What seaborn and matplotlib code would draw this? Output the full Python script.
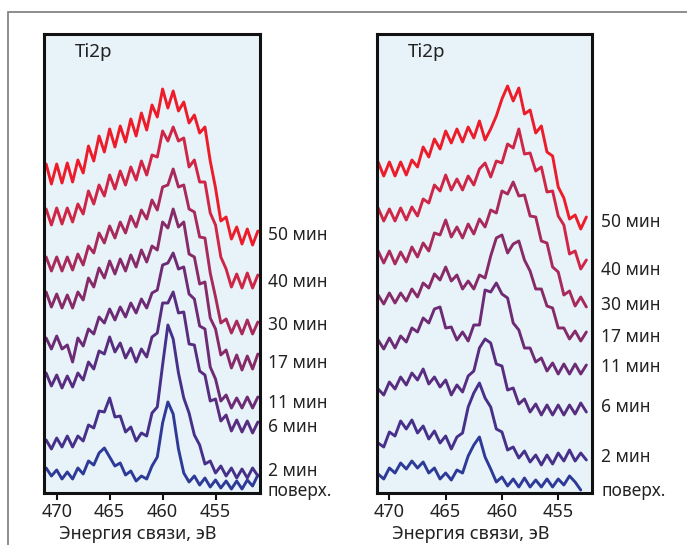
import pandas as pd
import seaborn as sns
import matplotlib.pyplot as plt
import matplotlib.transforms as mtransforms
from matplotlib.patches import Rectangle

# binding energy grid, eV (0.5 eV step)
ev_left = [471.0, 470.5, 470.0, 469.5, 469.0, 468.5, 468.0, 467.5, 467.0, 466.5,
           466.0, 465.5, 465.0, 464.5, 464.0, 463.5, 463.0, 462.5, 462.0, 461.5,
           461.0, 460.5, 460.0, 459.5, 459.0, 458.5, 458.0, 457.5, 457.0, 456.5,
           456.0, 455.5, 455.0, 454.5, 454.0, 453.5, 453.0, 452.5, 452.0, 451.5,
           451.0]
ev_right = [471.0, 470.5, 470.0, 469.5, 469.0, 468.5, 468.0, 467.5, 467.0, 466.5,
            466.0, 465.5, 465.0, 464.5, 464.0, 463.5, 463.0, 462.5, 462.0, 461.5,
            461.0, 460.5, 460.0, 459.5, 459.0, 458.5, 458.0, 457.5, 457.0, 456.5,
            456.0, 455.5, 455.0, 454.5, 454.0, 453.5, 453.0, 452.5]

labels = ['поверх.', '2 мин', '6 мин', '11 мин', '17 мин', '30 мин', '40 мин', '50 мин']

# left panel, Ti2p intensity (a.u., stacked as in the figure)
left_surf = [25, 17, 23, 14, 21, 14, 25, 19, 32, 28, 40, 45, 36, 27, 30, 18, 22, 12, 17, 14,
             27, 36, 70, 91, 79, 44, 20, 11, 17, 8, 15, 6, 13, 5, 12, 4, 12, 4, 13, 7, 18]
left_2 = [53, 44, 55, 46, 57, 46, 57, 52, 68, 65, 82, 81, 95, 76, 77, 61, 66, 52, 60, 57,
          80, 86, 128, 168, 154, 120, 95, 80, 58, 48, 29, 32, 20, 27, 17, 25, 15, 24, 15, 25, 17]
left_6 = [120, 107, 118, 105, 117, 106, 120, 113, 131, 124, 142, 139, 156, 141, 150, 135, 145,
          131, 144, 136, 156, 160, 190, 190, 201, 180, 181, 149, 148, 122, 118, 92, 94, 72, 78,
          62, 73, 61, 72, 60, 71]
left_11 = [155, 144, 157, 144, 148, 131, 155, 147, 164, 159, 176, 170, 184, 173, 186, 176, 190,
           180, 194, 185, 200, 203, 228, 230, 240, 224, 226, 199, 194, 167, 164, 126, 114, 92,
           98, 85, 95, 85, 96, 85, 96]
left_17 = [201, 186, 199, 185, 198, 185, 201, 193, 215, 206, 225, 215, 232, 219, 234, 222, 238,
           226, 243, 231, 247, 243, 271, 265, 284, 266, 271, 239, 236, 209, 211, 175, 164, 138,
           143, 125, 138, 123, 137, 124, 139]
left_30 = [236, 222, 236, 222, 236, 223, 239, 228, 247, 240, 260, 250, 267, 255, 271, 260, 277,
           266, 283, 274, 293, 283, 306, 308, 324, 306, 308, 284, 281, 256, 255, 220, 196, 170,
           174, 160, 172, 159, 173, 159, 171]
left_40 = [284, 268, 285, 269, 285, 271, 289, 279, 302, 289, 308, 297, 318, 304, 322, 308, 326,
           313, 332, 318, 338, 336, 362, 352, 366, 352, 355, 326, 333, 311, 311, 280, 268, 236,
           224, 206, 219, 205, 220, 205, 218]
left_50 = [329, 309, 329, 310, 330, 311, 333, 320, 347, 332, 357, 341, 364, 346, 367, 351, 374,
           357, 380, 363, 388, 376, 404, 385, 402, 382, 391, 370, 378, 360, 366, 332, 305, 272,
           276, 254, 266, 249, 264, 248, 262]

# right panel
right_surf = [19, 14, 25, 20, 30, 24, 32, 25, 31, 20, 25, 14, 20, 13, 23, 20, 37, 48, 56, 36,
              24, 11, 16, 7, 14, 6, 15, 6, 13, 6, 14, 6, 14, 8, 17, 11, 3]
right_2 = [50, 46, 61, 57, 72, 64, 73, 60, 67, 54, 62, 50, 57, 44, 56, 60, 86, 100, 110, 95,
           86, 64, 61, 43, 46, 35, 42, 31, 38, 28, 38, 29, 40, 32, 43, 32, 40, 33]
right_6 = [104, 98, 111, 104, 116, 108, 120, 113, 124, 109, 116, 106, 113, 98, 108, 101, 117,
           122, 145, 154, 150, 129, 127, 103, 105, 89, 94, 81, 89, 78, 88, 78, 88, 78, 88, 79,
           90, 81]
right_11 = [153, 144, 155, 145, 157, 151, 165, 161, 175, 170, 184, 186, 165, 166, 153, 161, 152,
            168, 168, 203, 201, 210, 199, 195, 170, 163, 145, 145, 131, 135, 122, 130, 119, 129,
            119, 129, 119, 128]
right_17 = [198, 189, 200, 190, 200, 192, 204, 196, 210, 205, 219, 213, 226, 212, 218, 204, 212,
            204, 218, 215, 237, 255, 258, 240, 249, 252, 233, 222, 204, 204, 187, 185, 165, 165,
            154, 162, 152, 161]
right_30 = [242, 230, 242, 229, 241, 231, 246, 236, 250, 242, 260, 258, 273, 256, 266, 255, 269,
            259, 274, 266, 283, 280, 302, 299, 311, 297, 298, 277, 276, 252, 250, 226, 221, 198,
            202, 187, 196, 186]
right_40 = [285, 272, 284, 272, 285, 273, 286, 277, 294, 290, 308, 302, 318, 303, 314, 303, 317,
            308, 324, 330, 316, 332, 330, 349, 345, 364, 339, 340, 322, 326, 301, 302, 277, 268,
            239, 242, 224, 233]
right_50 = [331, 317, 331, 317, 331, 318, 333, 326, 346, 336, 354, 344, 362, 350, 364, 351, 366,
            355, 372, 353, 364, 377, 394, 407, 392, 405, 379, 383, 360, 367, 341, 337, 306, 295,
            274, 278, 264, 276]

# where the time labels sit (intensity units)
left_label_y = [2, 22, 66, 90, 130, 168, 211, 258]
right_label_y = [2, 36, 86, 126, 156, 188, 223, 271]

colors = ['#2e3a97', '#47308a', '#582d80', '#6c2b74', '#862a68', '#a8295c', '#cf2546', '#ed1c2a']
palette = dict(zip(labels, colors))


def to_long(ev, series):
    frames = []
    for lab, vals in zip(labels, series):
        frames.append(pd.DataFrame({'ev': ev[:len(vals)], 'I': vals, 't': lab}))
    return pd.concat(frames, ignore_index=True)


df_left = to_long(ev_left, [left_surf, left_2, left_6, left_11, left_17, left_30, left_40, left_50])
df_right = to_long(ev_right, [right_surf, right_2, right_6, right_11, right_17, right_30, right_40, right_50])

sns.set_style('white')
plt.rcParams['font.family'] = ['Noto Sans', 'DejaVu Sans']
txt = '#222222'

fig = plt.figure(figsize=(6.87, 5.45), dpi=100)
fig.add_artist(Rectangle((8 / 687, -0.2), 1.2, 1.2 - 12 / 545, transform=fig.transFigure,
                         fill=False, edgecolor='#7a7a7a', linewidth=1.2))

ax1 = fig.add_axes([44 / 687, 52 / 545, 216 / 687, 459 / 545])
ax2 = fig.add_axes([377 / 687, 52 / 545, 215 / 687, 459 / 545])

panels = [(ax1, df_left, (471.2, 450.8), left_label_y, 1.037),
          (ax2, df_right, (471.1, 452.0), right_label_y, 1.042)]

for ax, df, xlim, lab_y, lab_x in panels:
    sns.lineplot(data=df, x='ev', y='I', hue='t', hue_order=labels, palette=palette,
                 estimator=None, linewidth=2.1, legend=False, ax=ax)
    ax.set_facecolor('#e7f3f8')
    ax.set_xlim(*xlim)
    ax.set_ylim(0, 459)
    ax.set_yticks([])
    ax.set_xticks([470, 465, 460, 455])
    ax.tick_params(axis='x', direction='out', length=5, width=1.5, pad=2,
                   labelsize=13, colors='#111111', labelcolor=txt, bottom=True)
    for s in ax.spines.values():
        s.set_linewidth(2.2)
        s.set_color('#111111')
    ax.set_ylabel('')
    ax.set_xlabel('Энергия связи, эВ', fontsize=13, color=txt)
    ax.xaxis.set_label_coords(0.435, -0.069)
    ax.text(0.144, 0.961, 'Ti2p', transform=ax.transAxes, fontsize=13.5,
            color=txt, ha='left', va='center')
    tr = mtransforms.blended_transform_factory(ax.transAxes, ax.transData)
    for lab, y in zip(labels, lab_y):
        ax.text(lab_x, y, lab, transform=tr, fontsize=12.5, color=txt,
                ha='left', va='center', clip_on=False)

fig.savefig('out.png', dpi=100)
